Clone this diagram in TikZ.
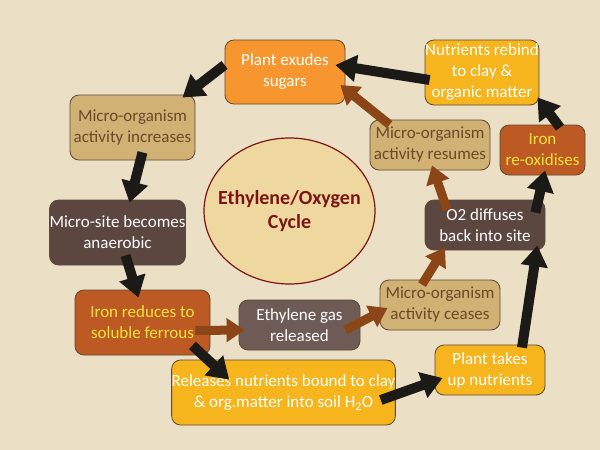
\documentclass[tikz,border=0pt]{standalone}
\usepackage{fontspec}
\setmainfont{Carlito}
\usetikzlibrary{arrows.meta,shapes.geometric}
\definecolor{bgbeige}{HTML}{EBDFC6}
\definecolor{boxline}{HTML}{5C4A36}
\definecolor{cycfill}{HTML}{EFD8A0}
\definecolor{cycred}{HTML}{7B1416}
\definecolor{sugorange}{HTML}{F7962F}
\definecolor{gold}{HTML}{F6B51C}
\definecolor{tan}{HTML}{D2B274}
\definecolor{tantext}{HTML}{6A4828}
\definecolor{darkbrown}{HTML}{5B4640}
\definecolor{gasbrown}{HTML}{6F5B55}
\definecolor{rust}{HTML}{BD5A23}
\definecolor{ironyellow}{HTML}{F4E43C}
\definecolor{arrowbrown}{HTML}{8B4516}
\definecolor{arrowblack}{HTML}{1C1A17}
\begin{document}
\begin{tikzpicture}[x=1pt,y=-1pt,
        box/.style={draw=boxline,line width=0.8pt,rounded corners=9pt,align=center,
            inner sep=0pt,font=\fontsize{17}{21}\selectfont},
        blk/.style={-{Triangle[width=26pt,length=21pt]},line width=10pt,draw=arrowblack},
        brn/.style={-{Triangle[width=23pt,length=18pt]},line width=9pt,draw=arrowbrown}]
    \fill[bgbeige] (0,0) rectangle (600,450);
    \useasboundingbox (0,0) rectangle (600,450);

    \node (cyc) at (289.5,211) [ellipse,draw=cycred,line width=1.2pt,fill=cycfill,
        minimum width=171pt,minimum height=146pt,inner xsep=-16pt,inner ysep=0pt,
        align=center,text=cycred,
        font=\fontsize{20}{24}\selectfont\bfseries] {Ethylene/Oxygen\\Cycle};

    \begin{scope}[every node/.style={box}]
        \node (sug) at (285,72) [fill=sugorange,text=white,minimum width=120pt,minimum height=64pt] {Plant exudes\\sugars};
        \node (rebind) at (482,72.5) [fill=gold,text=white,minimum width=114pt,minimum height=65pt] {Nutrients rebind\\to clay \&\\organic matter};
        \node (inc) at (132.5,127.5) [fill=tan,text=tantext,minimum width=125pt,minimum height=65pt] {Micro-organism\\activity increases};
        \node (res) at (430,145) [fill=tan,text=tantext,minimum width=120pt,minimum height=50pt] {Micro-organism\\activity resumes};
        \node (reox) at (542.5,150) [fill=rust,text=ironyellow,minimum width=85pt,minimum height=50pt] {Iron\\re-oxidises};
        \node (anae) at (117.5,232.5) [fill=darkbrown,text=white,minimum width=135pt,minimum height=65pt] {Micro-site becomes\\anaerobic};
        \node (o2) at (485,225) [fill=darkbrown,text=white,minimum width=120pt,minimum height=50pt] {O2 diffuses\\back into site};
        \node (ferr) at (142.5,322.5) [fill=rust,text=ironyellow,minimum width=135pt,minimum height=65pt] {Iron reduces to\\soluble ferrous};
        \node (gas) at (299.5,325) [fill=gasbrown,text=white,minimum width=121pt,minimum height=50pt] {Ethylene gas\\released};
        \node (cease) at (440,305) [fill=tan,text=tantext,minimum width=120pt,minimum height=50pt] {Micro-organism\\activity ceases};
        \node (rel) at (283.5,392.5) [fill=gold,text=white,minimum width=223pt,minimum height=65pt] {Releases nutrients bound to clay\\\& org.matter into soil H\textsubscript{2}O};
        \node (take) at (490,370) [fill=gold,text=white,minimum width=110pt,minimum height=50pt] {Plant takes\\up nutrients};
    \end{scope}

    % black arrows
    \path ([yshift=7pt]sug.west) edge[blk] ([xshift=-13pt,yshift=-3pt]inc.north east);
    \path ([xshift=10pt,yshift=8pt]inc.south) edge[blk] ([xshift=12pt,yshift=-3pt]anae.north);
    \path ([xshift=8pt,yshift=10pt]anae.south) edge[blk] ([xshift=-4pt,yshift=-8pt]ferr.north);
    \path ([xshift=-18pt,yshift=10pt]ferr.south east) edge[blk] ([xshift=58pt,yshift=-20pt]rel.north west);
    \path ([xshift=-15pt,yshift=-7.5pt]rel.east) edge[blk] ([xshift=8pt,yshift=-8pt]take.west);
    \path ([xshift=32pt,yshift=-3pt]take.north) edge[blk] ([xshift=-8pt,yshift=5pt]o2.south east);
    \path ([xshift=-10pt,yshift=-13pt]o2.north east) edge[blk] ([xshift=2.5pt,yshift=5pt]reox.south);
    \path ([xshift=17.5pt,yshift=-3pt]reox.north) edge[blk] ([xshift=-2pt,yshift=8pt]rebind.south east);
    \path ([xshift=5pt,yshift=-7.5pt]rebind.west) edge[blk] ([xshift=-10pt,yshift=7pt]sug.east);

    % brown arrows
    \path ([xshift=-15pt,yshift=-8pt]ferr.east) edge[brn] ([xshift=6pt,yshift=-5pt]gas.west);
    \path ([xshift=-15pt,yshift=-5pt]gas.east) edge[brn] ([xshift=8pt,yshift=-3pt]cease.west);
    \path ([xshift=-18pt,yshift=-5pt]cease.north) edge[brn] ([xshift=-40pt,yshift=3pt]o2.south);
    \path ([xshift=-38pt,yshift=-10pt]o2.north) edge[brn] ([xshift=2pt,yshift=5pt]res.south);
    \path ([xshift=20pt,yshift=-5pt]res.north west) edge[brn] ([xshift=-5pt,yshift=-13pt]sug.east);
\end{tikzpicture}
\end{document}
